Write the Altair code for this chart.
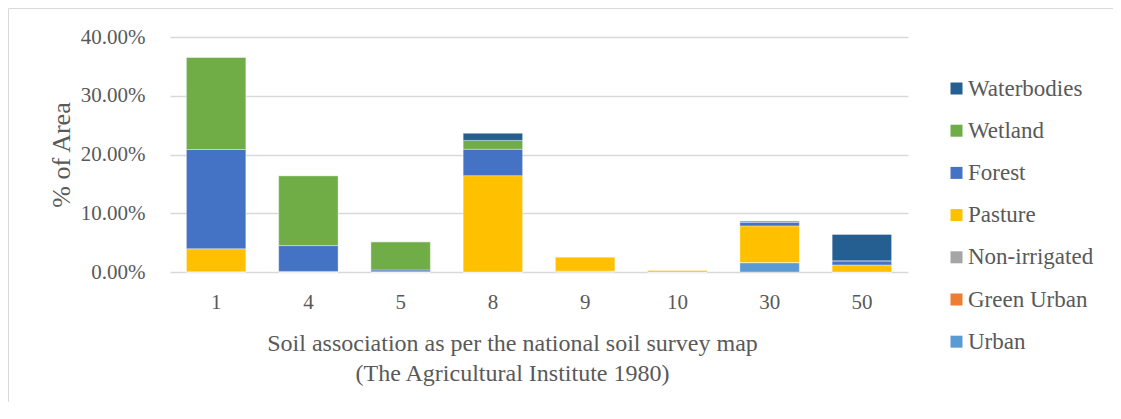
import altair as alt
import pandas as pd

categories = ["1", "4", "5", "8", "9", "10", "30", "50"]
series = ["Waterbodies", "Wetland", "Forest", "Pasture", "Non-irrigated", "Green Urban", "Urban"]
colors = ["#255E91", "#70AD47", "#4472C4", "#FFC000", "#A5A5A5", "#ED7D31", "#5B9BD5"]

urban = [0.0, 0.0, 0.0, 0.0, 0.0, 0.0, 0.016, 0.0]
green_urban = [0.0, 0.0, 0.0, 0.0, 0.001, 0.0, 0.0, 0.0]
non_irrigated = [0.0005, 0.0, 0.0005, 0.0, 0.0005, 0.0, 0.0, 0.0]
pasture = [0.039, 0.001, 0.0, 0.164, 0.0245, 0.0035, 0.0625, 0.012]
forest = [0.169, 0.044, 0.003, 0.045, 0.0, 0.0, 0.0065, 0.007]
wetland = [0.157, 0.119, 0.048, 0.015, 0.0, 0.0, 0.0, 0.0]
waterbodies = [0.0, 0.0, 0.0, 0.012, 0.0, 0.0, 0.0015, 0.045]

values = {
    "Urban": urban,
    "Green Urban": green_urban,
    "Non-irrigated": non_irrigated,
    "Pasture": pasture,
    "Forest": forest,
    "Wetland": wetland,
    "Waterbodies": waterbodies,
}
stack_order = ["Urban", "Green Urban", "Non-irrigated", "Pasture", "Forest", "Wetland", "Waterbodies"]

rows = []
for s in stack_order:
    for c, v in zip(categories, values[s]):
        rows.append({"cat": c, "series": s, "value": v, "ord": stack_order.index(s)})
df = pd.DataFrame(rows)

FONT = "Liberation Serif"
TXT = "#595959"

bars = alt.Chart(df).mark_bar(stroke="white", strokeWidth=0.6, strokeOpacity=0.6).encode(
    x=alt.X("cat:N", sort=categories,
            scale=alt.Scale(paddingInner=0.356, paddingOuter=0.178),
            axis=alt.Axis(title=["Soil association as per the national soil survey map",
                                 "(The Agricultural Institute 1980)"],
                          labelAngle=0, labelFont=FONT, labelFontSize=21, labelColor=TXT,
                          labelPadding=19, ticks=False, domain=False,
                          titleFont=FONT, titleFontSize=24, titleColor=TXT,
                          titleFontWeight="normal", titlePadding=19, titleLineHeight=30,
                          titleX=342, titleAlign="center")),
    y=alt.Y("value:Q", stack="zero",
            scale=alt.Scale(domain=[0, 0.4], nice=False),
            axis=alt.Axis(title="% of Area", format=".2%", values=[0, 0.1, 0.2, 0.3, 0.4],
                          labelFont=FONT, labelFontSize=21, labelColor=TXT, labelPadding=25,
                          ticks=False, domain=False, gridColor="#D9D9D9", gridWidth=1.3,
                          titleFont=FONT, titleFontSize=26, titleColor=TXT,
                          titleFontWeight="normal", titlePadding=6)),
    color=alt.Color("series:N", scale=alt.Scale(domain=series, range=colors),
                    legend=alt.Legend(title=None, orient="none", legendX=775, legendY=40,
                                      symbolType="square", symbolSize=144, symbolStrokeWidth=0,
                                      labelFont=FONT, labelFontSize=23, labelColor=TXT,
                                      rowPadding=18.2, labelOffset=0)),
    order=alt.Order("ord:Q", sort="ascending"),
)

border = alt.Chart(pd.DataFrame({"k": [0]})).mark_rule(color="#D9D9D9", strokeWidth=1).encode(
    x=alt.value(-161.5), x2=alt.value(1000), y=alt.value(-28.5), y2=alt.value(-28.5)
)
border2 = alt.Chart(pd.DataFrame({"k": [0]})).mark_rule(color="#D9D9D9", strokeWidth=1).encode(
    x=alt.value(-161.5), x2=alt.value(-161.5), y=alt.value(-28.5), y2=alt.value(500)
)

chart = alt.layer(bars, border, border2).properties(
    width=738, height=235,
    autosize=alt.AutoSizeParams(type="none"),
    padding={"left": 162, "top": 29, "right": 205, "bottom": 130},
).configure(font=FONT).configure_view(stroke=None)

chart.save("out.html", embed_options={"renderer": "svg", "actions": False})
